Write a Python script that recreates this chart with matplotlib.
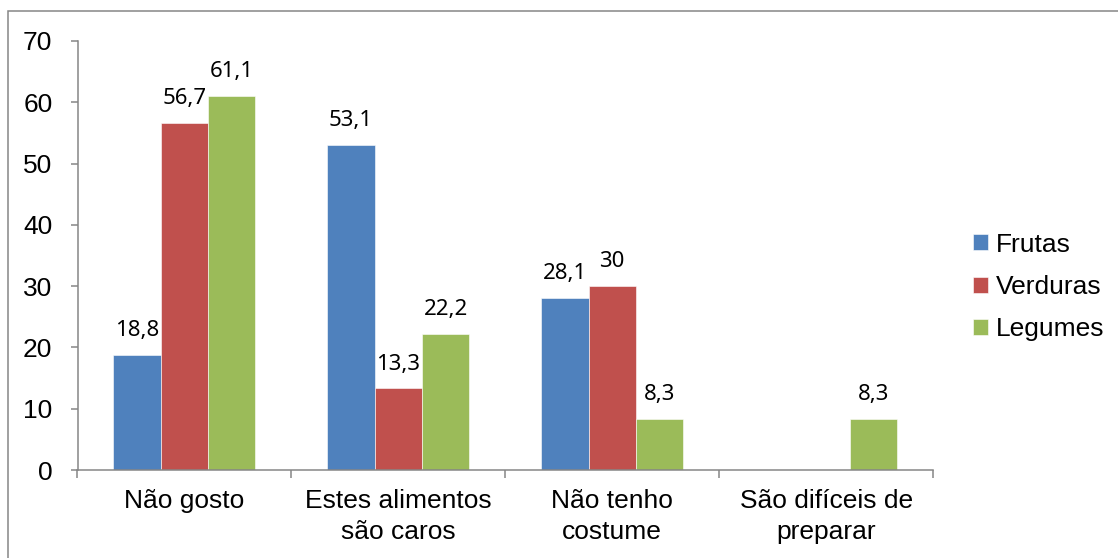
import numpy as np
import matplotlib
matplotlib.use("Agg")
import matplotlib.pyplot as plt
from matplotlib.patches import Rectangle

# data
categories = ["Não gosto", "Estes alimentos\nsão caros", "Não tenho\ncostume", "São difíceis de\npreparar"]
series = ["Frutas", "Verduras", "Legumes"]
frutas = [18.8, 53.1, 28.1, np.nan]
verduras = [56.7, 13.3, 30, np.nan]
legumes = [61.1, 22.2, 8.3, 8.3]
colors = ["#4F81BD", "#C0504D", "#9BBB59"]
yticks = [0, 10, 20, 30, 40, 50, 60, 70]

plt.rcParams['font.family'] = ['Liberation Sans', 'DejaVu Sans']
axis_gray = "#868686"

fig = plt.figure(figsize=(11.18, 5.58), dpi=100)
ax = fig.add_axes([77.5 / 1118, 1 - 470 / 558, (933 - 77.5) / 1118, (470 - 41) / 558])

x = np.arange(len(categories))
w = 0.2215
for i, (name, vals) in enumerate(zip(series, [frutas, verduras, legumes])):
    pos = x + (i - 1) * w
    ax.bar(pos, vals, width=w, color=colors[i], label=name,
           edgecolor="white", linewidth=0.4)
    for px, v in zip(pos, vals):
        if np.isnan(v):
            continue
        ax.annotate(f"{v:g}".replace(".", ","), (px, v), xytext=(0, 13.5),
                    textcoords="offset points", ha="center", va="baseline",
                    fontsize=16, family="Noto Sans")

ax.set_xlim(-0.5, len(categories) - 0.5)
ax.set_ylim(0, 70)
ax.set_yticks(yticks)
ax.set_xticks(x)
ax.set_xticklabels(categories, fontsize=19, linespacing=1.35)
ax.set_xticks(np.arange(len(categories) + 1) - 0.5, minor=True)
ax.tick_params(axis="x", which="major", length=0, pad=14)
ax.tick_params(axis="x", which="minor", length=6, width=1.1, color=axis_gray, direction="out")
ax.tick_params(axis="y", length=5, width=1.1, color=axis_gray, labelsize=19, pad=13)

for s in ["top", "right"]:
    ax.spines[s].set_visible(False)
for s in ["left", "bottom"]:
    ax.spines[s].set_color(axis_gray)
    ax.spines[s].set_linewidth(1.1)

fig.legend(loc="center left", bbox_to_anchor=(973 / 1118, 1 - 287 / 558),
           frameon=False, fontsize=19, handlelength=0.57, handleheight=0.57,
           handletextpad=0.3, labelspacing=0.7, borderpad=0, borderaxespad=0)

# outer border of the chart area
fig.patches.append(Rectangle((8 / 1118, -0.1), 1.2, 1.1 - 11 / 558,
                             transform=fig.transFigure, fill=False,
                             edgecolor=axis_gray, linewidth=1.1))

fig.savefig("out.png", dpi=100)
